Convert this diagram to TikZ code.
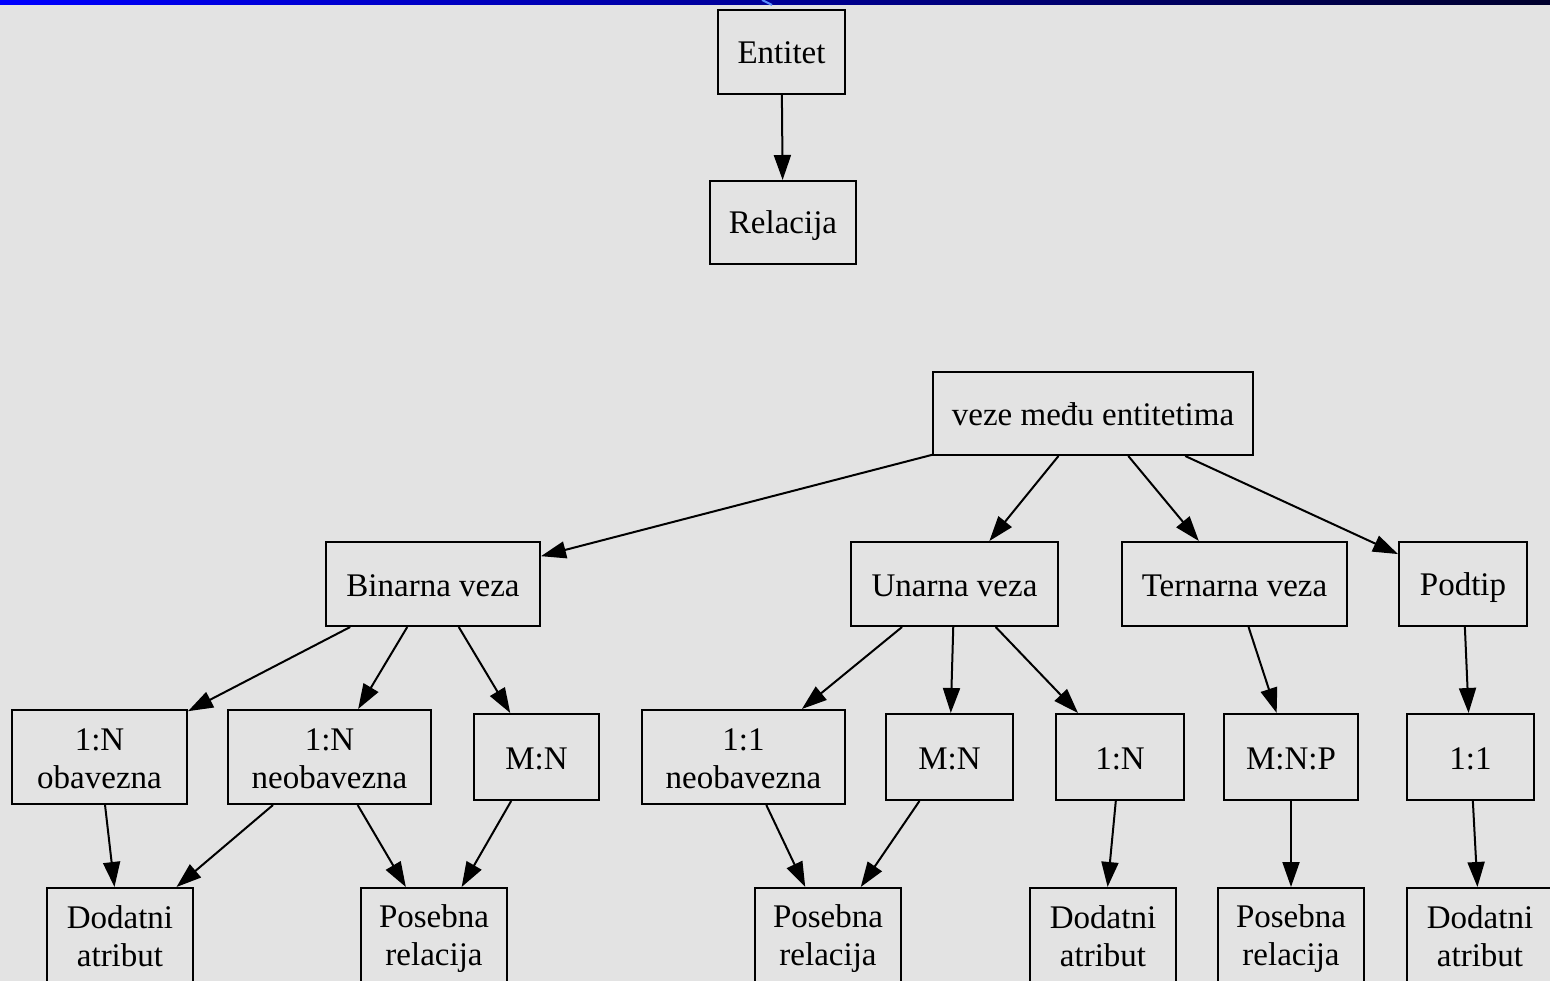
\documentclass[tikz,border=0pt]{standalone}
\usepackage{fontspec}
\setmainfont{Liberation Serif}
\usetikzlibrary{arrows.meta}
\definecolor{bg}{RGB}{227,227,227}
\definecolor{navy}{RGB}{0,0,45}
\newcommand{\sx}{\rule[-6pt]{0pt}{36pt}}
\begin{document}
\begin{tikzpicture}[x=1pt,y=1pt,
  box/.style={draw=black, line width=2pt, align=center, inner sep=0pt,
    font=\fontsize{33}{38}\selectfont},
  edge/.style={line width=2pt, -{Triangle[length=25pt,width=17pt]}}]
\clip (0,0) rectangle (1550,-981);
\fill[bg] (0,0) rectangle (1550,-981);
\shade[left color=blue, right color=navy] (0,0) rectangle (1550,-5);
\draw[line width=2pt, color={rgb,255:red,90;green,140;blue,255}] (762,0) -- (772,-5);
% top
\node[box, minimum width=127pt, minimum height=84pt] (E) at (781.5,-52) {\sx Entitet};
\node[box, minimum width=146pt, minimum height=83pt] (R) at (783,-222.5) {\sx Relacija};
% level 1
\node[box, minimum width=320pt, minimum height=83pt] (V) at (1093,-413.5) {\sx veze među entitetima};
% level 2
\node[box, minimum width=214pt, minimum height=84pt] (B) at (433,-584) {\sx Binarna veza};
\node[box, minimum width=207pt, minimum height=84pt] (U) at (954.5,-584) {\sx Unarna veza};
\node[box, minimum width=225pt, minimum height=84pt] (T) at (1234.5,-584) {\sx Ternarna veza};
\node[box, minimum width=128pt, minimum height=84pt] (P) at (1463,-584) {\sx Podtip};
% level 3
\node[box, minimum width=175pt, minimum height=94pt] (a1) at (99.5,-757) {\sx 1:N\\\sx obavezna};
\node[box, minimum width=203pt, minimum height=94pt] (a2) at (329.5,-757) {\sx 1:N\\\sx neobavezna};
\node[box, minimum width=125pt, minimum height=86pt] (a3) at (536.5,-757) {\sx M:N};
\node[box, minimum width=203pt, minimum height=94pt] (b1) at (743.5,-757) {\sx 1:1\\\sx neobavezna};
\node[box, minimum width=127pt, minimum height=86pt] (b2) at (949.5,-757) {\sx M:N};
\node[box, minimum width=128pt, minimum height=86pt] (b3) at (1120,-757) {\sx 1:N};
\node[box, minimum width=134pt, minimum height=86pt] (c1) at (1291,-757) {\sx M:N:P};
\node[box, minimum width=127pt, minimum height=86pt] (d1) at (1470.5,-757) {\sx 1:1};
% level 4
\node[box, minimum width=146pt, minimum height=94pt] (x1) at (120,-935) {\sx Dodatni\\\sx atribut};
\node[box, minimum width=146pt, minimum height=94pt] (x2) at (434,-935) {\sx Posebna\\\sx relacija};
\node[box, minimum width=146pt, minimum height=94pt] (x3) at (828,-935) {\sx Posebna\\\sx relacija};
\node[box, minimum width=146pt, minimum height=94pt] (x4) at (1103,-935) {\sx Dodatni\\\sx atribut};
\node[box, minimum width=146pt, minimum height=94pt] (x5) at (1291,-935) {\sx Posebna\\\sx relacija};
\node[box, minimum width=146pt, minimum height=94pt] (x6) at (1480,-935) {\sx Dodatni\\\sx atribut};
% edges
\draw[edge] (E) -- (R);
\draw[edge] (V) -- (B);
\draw[edge] (V) -- (U);
\draw[edge] (V) -- (T);
\draw[edge] (V) -- (P);
\draw[edge] (B) -- (a1);
\draw[edge] (B) -- (a2);
\draw[edge] (B) -- (a3);
\draw[edge] (U) -- (b1);
\draw[edge] (U) -- (b2);
\draw[edge] (U) -- (b3);
\draw[edge] (T) -- (c1);
\draw[edge] (P) -- (d1);
\draw[edge] (a1) -- (x1);
\draw[edge] (a2) -- (x1);
\draw[edge] (a2) -- (x2);
\draw[edge] (a3) -- (x2);
\draw[edge] (b1) -- (x3);
\draw[edge] (b2) -- (x3);
\draw[edge] (b3) -- (x4);
\draw[edge] (c1) -- (x5);
\draw[edge] (d1) -- (x6);
\end{tikzpicture}
\end{document}
